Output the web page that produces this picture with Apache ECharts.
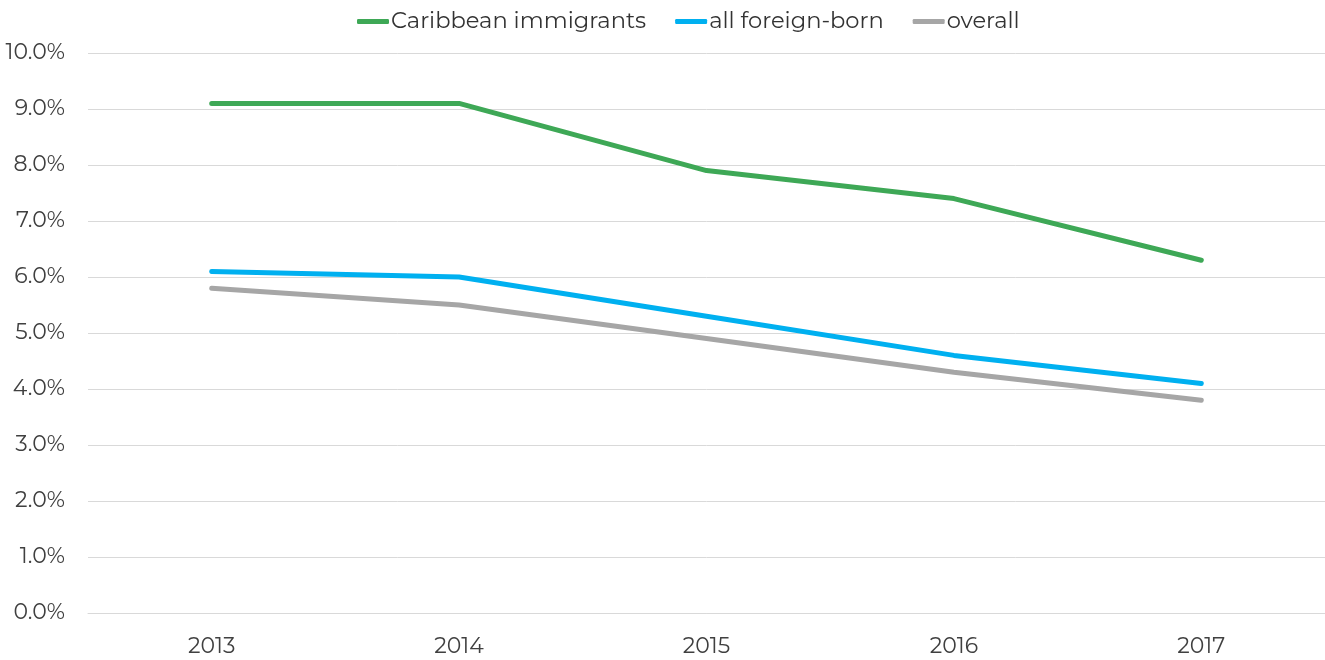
<!DOCTYPE html>
<html>
<head>
<meta charset="utf-8">
<script src="https://cdn.jsdelivr.net/npm/echarts@6/dist/echarts.min.js"></script>
<style>
  html, body { margin: 0; padding: 0; background: #fff; }
  #chart { width: 1325px; height: 660px; }
</style>
</head>
<body>
<div id="chart"></div>
<script>
const years = ['2013', '2014', '2015', '2016', '2017']
const caribbean = [9.1, 9.1, 7.9, 7.4, 6.3]
const foreignBorn = [6.1, 6.0, 5.3, 4.6, 4.1]
const overall = [5.8, 5.5, 4.9, 4.3, 3.8]

const font = 'Montserrat, "Open Sans", "Noto Sans", sans-serif'

const chart = echarts.init(document.getElementById('chart'), null, { renderer: 'canvas' })

const line = (name, data, color) => ({
  name,
  type: 'line',
  data,
  symbol: 'none',
  lineStyle: { color, width: 5, cap: 'round', join: 'round' },
  itemStyle: { color },
  animation: false,
})

chart.setOption({
  backgroundColor: '#fff',
  legend: {
    top: 5,
    left: 352,
    itemWidth: 32,
    itemHeight: 5,
    itemGap: 29,
    icon: 'roundRect',
    textStyle: { fontFamily: font, fontSize: 22.6, color: '#333', padding: [0, 0, 0, -3] },
    data: ['Caribbean immigrants', 'all foreign-born', 'overall'],
  },
  grid: { left: 88, right: 0, top: 53, bottom: 47, containLabel: false },
  xAxis: {
    type: 'category',
    data: years,
    boundaryGap: true,
    axisLine: { lineStyle: { color: '#d9d9d9', width: 1 } },
    axisTick: { show: false },
    axisLabel: { fontFamily: font, fontSize: 22, color: '#404040', margin: 23 },
  },
  yAxis: {
    type: 'value',
    min: 0,
    max: 10,
    interval: 1,
    axisLine: { show: false },
    axisTick: { show: false },
    splitLine: { lineStyle: { color: '#d9d9d9', width: 1 } },
    axisLabel: {
      fontFamily: font,
      fontSize: 22,
      color: '#404040',
      margin: 23,
      formatter: v => v.toFixed(1) + '%',
    },
  },
  series: [
    line('Caribbean immigrants', caribbean, '#3ea856'),
    line('all foreign-born', foreignBorn, '#00b0f0'),
    line('overall', overall, '#a6a6a6'),
  ],
})
</script>
</body>
</html>
